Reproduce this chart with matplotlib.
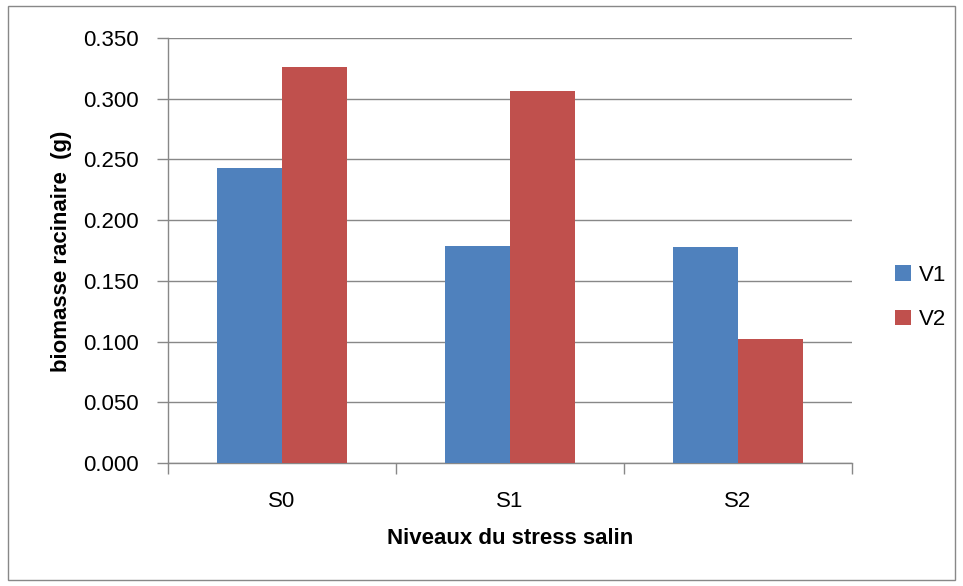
import matplotlib
matplotlib.use("Agg")
import matplotlib.pyplot as plt
import numpy as np
from matplotlib.patches import Rectangle

categories = ["S0", "S1", "S2"]
v1 = [0.243, 0.179, 0.178]
v2 = [0.326, 0.306, 0.102]
series_names = ["V1", "V2"]
yticks = [0.000, 0.050, 0.100, 0.150, 0.200, 0.250, 0.300, 0.350]

plt.rcParams['font.family'] = ['Liberation Sans', 'DejaVu Sans']

fig = plt.figure(figsize=(9.63, 5.86), dpi=100)
fig.patches.append(Rectangle((8 / 963, 1 - 580 / 586), 947 / 963, 574 / 586,
                             transform=fig.transFigure, fill=False,
                             edgecolor="#888888", linewidth=1))
ax = fig.add_axes([168 / 963, 1 - 463 / 586, 684 / 963, 425 / 586])

x = np.arange(len(categories))
w = 0.283
ax.bar(x - w / 2, v1, w, color="#4F81BD", label=series_names[0], zorder=3)
ax.bar(x + w / 2, v2, w, color="#C0504D", label=series_names[1], zorder=3)

ax.set_xlim(-0.5, 2.5)
ax.set_ylim(0, 0.35)
ax.set_yticks(yticks)
ax.set_yticklabels([f"{t:.3f}" for t in yticks], fontsize=16)
ax.set_xticks(x)
ax.set_xticklabels(categories, fontsize=16)
ax.set_xticks([-0.5, 0.5, 1.5, 2.5], minor=True)
ax.tick_params(axis='x', which='major', length=0, pad=20)
ax.tick_params(axis='x', which='minor', length=8, color="#888888", width=1)
ax.tick_params(axis='y', length=8, color="#888888", width=1, pad=13)

ax.grid(axis='y', color="#888888", linewidth=1, zorder=0)
for side in ["top", "right"]:
    ax.spines[side].set_visible(False)
for side in ["left", "bottom"]:
    ax.spines[side].set_color("#888888")
    ax.spines[side].set_linewidth(1)

fig.text(510 / 963, 1 - 538 / 586, "Niveaux du stress salin", fontsize=16,
         fontweight="bold", ha="center", va="center")
fig.text(62 / 963, 1 - 251 / 586, "biomasse racinaire  (g)", fontsize=16,
         fontweight="bold", ha="center", va="center", rotation=90)

handles, labels = ax.get_legend_handles_labels()
fig.legend(handles, labels, loc="center left", bbox_to_anchor=(895 / 963, 1 - 297.5 / 586),
           frameon=False, fontsize=16, handlelength=0.7, handleheight=0.7,
           labelspacing=1.05, handletextpad=0.36, borderpad=0, borderaxespad=0)

fig.savefig("out.png", dpi=100)
